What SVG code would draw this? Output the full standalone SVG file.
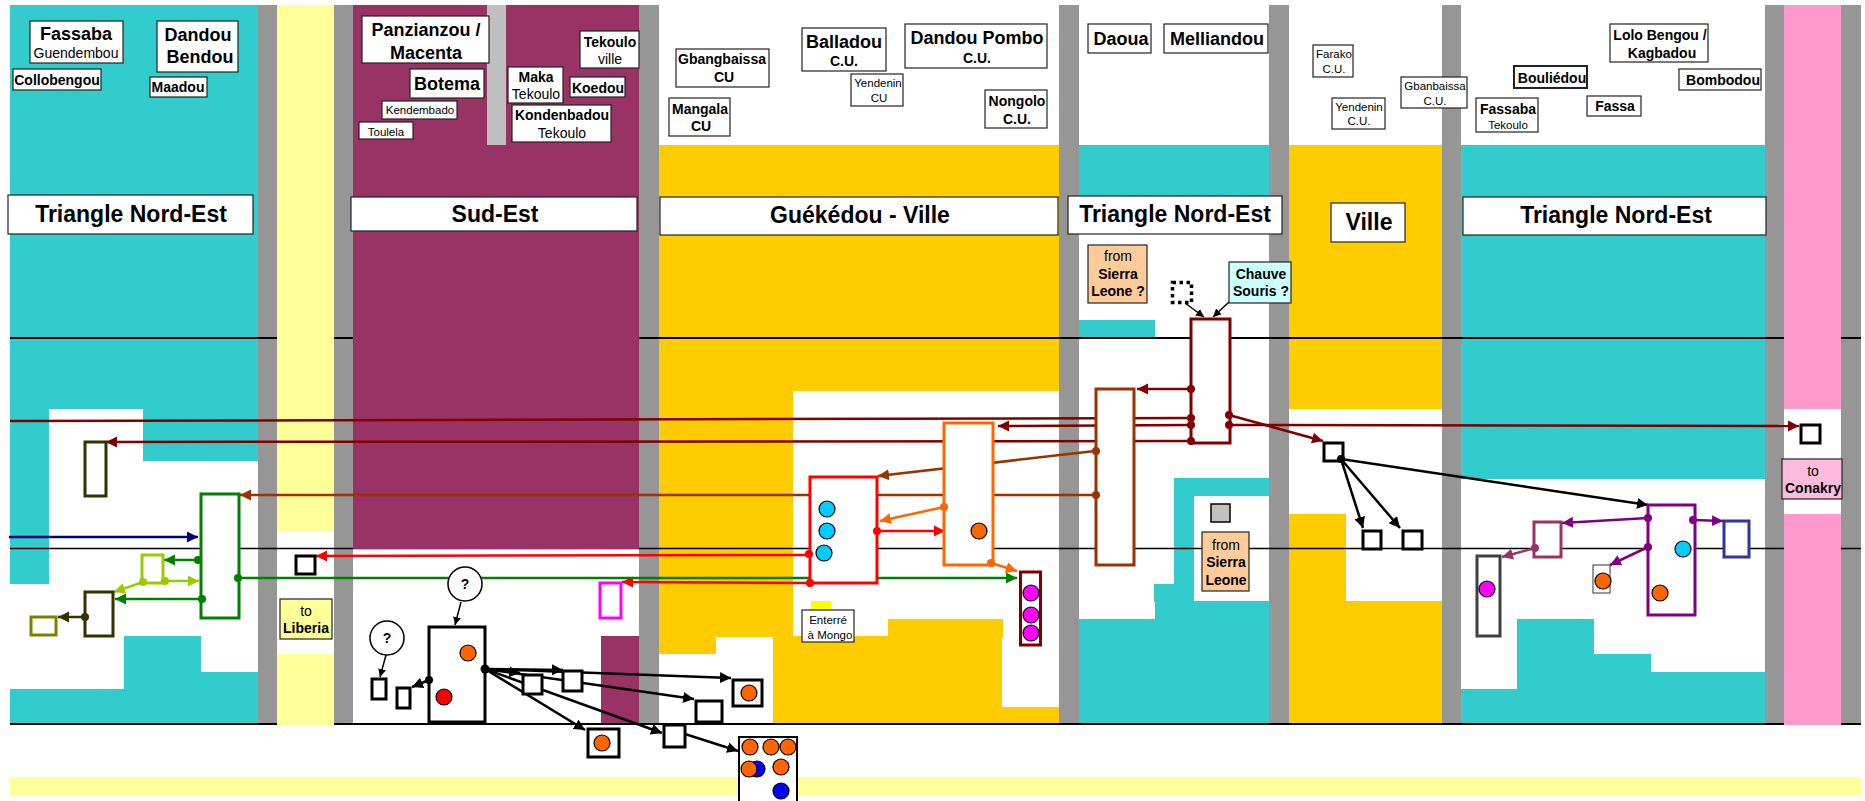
<svg xmlns="http://www.w3.org/2000/svg" width="1865" height="801" viewBox="0 0 1865 801">
<style>
text{font-family:"Liberation Sans",Arial,sans-serif;text-anchor:middle;fill:#000}
.b{font-weight:bold}.s11{font-size:11.5px}.s14{font-size:14px}.s18{font-size:18px}.s23{font-size:23px}
.teal{fill:#33CCCC}.gray{fill:#969696}.yel{fill:#FFFF99}.plum{fill:#993366}.gold{fill:#FFCC00}.pink{fill:#FF99CC}
.lab{fill:#fff;stroke:#222;stroke-width:1.2}
.box{fill:#fff;stroke-width:3}
.k{stroke:#000}
.c{stroke:#000;stroke-width:1.2}
.conn path,.conn line{fill:none;stroke-width:2.5}
.thin{stroke-width:1.5!important}
</style>
<defs>
<marker id="a-k" markerUnits="userSpaceOnUse" markerWidth="12" markerHeight="12" refX="11" refY="6" orient="auto"><path d="M0,0.5L11,6L0,11.5z" fill="#000"/></marker>
<marker id="a-t" markerUnits="userSpaceOnUse" markerWidth="9" markerHeight="9" refX="8" refY="4" orient="auto"><path d="M0,0L8,4L0,8z" fill="#000"/></marker>
<marker id="a-m" markerUnits="userSpaceOnUse" markerWidth="12" markerHeight="12" refX="11" refY="6" orient="auto"><path d="M0,0.5L11,6L0,11.5z" fill="#800000"/></marker>
<marker id="a-br" markerUnits="userSpaceOnUse" markerWidth="12" markerHeight="12" refX="11" refY="6" orient="auto"><path d="M0,0.5L11,6L0,11.5z" fill="#993300"/></marker>
<marker id="a-o" markerUnits="userSpaceOnUse" markerWidth="12" markerHeight="12" refX="11" refY="6" orient="auto"><path d="M0,0.5L11,6L0,11.5z" fill="#FF6600"/></marker>
<marker id="a-r" markerUnits="userSpaceOnUse" markerWidth="12" markerHeight="12" refX="11" refY="6" orient="auto"><path d="M0,0.5L11,6L0,11.5z" fill="#FF0000"/></marker>
<marker id="a-g" markerUnits="userSpaceOnUse" markerWidth="12" markerHeight="12" refX="11" refY="6" orient="auto"><path d="M0,0.5L11,6L0,11.5z" fill="#008000"/></marker>
<marker id="a-l" markerUnits="userSpaceOnUse" markerWidth="12" markerHeight="12" refX="11" refY="6" orient="auto"><path d="M0,0.5L11,6L0,11.5z" fill="#99CC00"/></marker>
<marker id="a-n" markerUnits="userSpaceOnUse" markerWidth="12" markerHeight="12" refX="11" refY="6" orient="auto"><path d="M0,0.5L11,6L0,11.5z" fill="#000080"/></marker>
<marker id="a-d" markerUnits="userSpaceOnUse" markerWidth="12" markerHeight="12" refX="11" refY="6" orient="auto"><path d="M0,0.5L11,6L0,11.5z" fill="#333300"/></marker>
<marker id="a-p" markerUnits="userSpaceOnUse" markerWidth="12" markerHeight="12" refX="11" refY="6" orient="auto"><path d="M0,0.5L11,6L0,11.5z" fill="#800080"/></marker>
<marker id="a-h" markerUnits="userSpaceOnUse" markerWidth="12" markerHeight="12" refX="11" refY="6" orient="auto"><path d="M0,0.5L11,6L0,11.5z" fill="#993366"/></marker>
</defs>
<g id="background">
<rect width="1865" height="801" fill="#fff"/>
<rect class="yel" x="10" y="777" width="1851" height="18"/>
<path class="teal" d="M10,5H258V461H143V409H49V584H10z"/>
<path class="teal" d="M10,723V689H124V636H201V672H258V723z"/>
<rect class="gray" x="258" y="5" width="19" height="718"/>
<rect class="gray" x="334" y="5" width="19" height="718"/>
<rect class="gold" x="659" y="145" width="400" height="246"/>
<path class="gold" d="M659,391H793V636H773V637H716V654H659z"/>
<path class="gold" d="M773,636H888V619H1003V637H1002V707H1059V723H773z"/>
<rect fill="#FFFF00" x="811" y="601" width="20" height="9"/>
<rect class="teal" x="1079" y="145" width="190" height="70"/>
<rect class="teal" x="1078" y="320" width="77" height="18"/>
<path class="teal" d="M1174,478H1269V496H1194V601H1269V723H1078V619H1155V602H1154V584H1174z"/>
<rect class="gold" x="1288" y="145" width="154" height="264"/>
<path class="gold" d="M1288,514H1346V601H1442V723H1288z"/>
<rect class="teal" x="1461" y="145" width="304" height="334"/>
<path class="teal" d="M1461,723V689H1517V619H1594V654H1651V672H1765V723z"/>
<g class="gray"><rect x="639" y="5" width="20" height="718"/><rect x="1059" y="5" width="20" height="718"/><rect x="1269" y="5" width="20" height="718"/><rect x="1442" y="5" width="19" height="718"/><rect x="1765" y="5" width="19" height="718"/><rect x="1841" y="5" width="20" height="718"/></g>
<line x1="10" y1="338" x2="1861" y2="338" stroke="#000" stroke-width="2"/>
<line x1="10" y1="548.500" x2="1861" y2="548.500" stroke="#000" stroke-width="1.5"/>
<line x1="10" y1="724" x2="1861" y2="724" stroke="#000" stroke-width="2"/>
<rect class="yel" x="277" y="5" width="57" height="526"/>
<rect class="yel" x="277" y="654" width="57" height="71"/>
<rect class="plum" x="353" y="5" width="286" height="544"/>
<rect fill="#BFBFBF" x="487" y="5" width="19" height="140"/>
<rect class="plum" x="601" y="636" width="38" height="87"/>
<path class="pink" d="M1784,5H1841V409H1784z"/>
<rect class="pink" x="1784" y="514" width="57" height="211"/>
</g>
<g class="conn">
<path d="M1191,418L10,421" stroke="#800000"/>
<path d="M1191,425L998,426" stroke="#800000" marker-end="url(#a-m)"/>
<path d="M1191,441L106,442" stroke="#800000" marker-end="url(#a-m)"/>
<path d="M1229,425L1799,426" stroke="#800000" marker-end="url(#a-m)"/>
<path d="M1229,415L1323,441" stroke="#800000" marker-end="url(#a-m)"/>
<path d="M1191,389L1137,389" stroke="#800000" marker-end="url(#a-m)"/>
<path d="M1095,451L878,476" stroke="#993300" marker-end="url(#a-br)"/>
<path d="M1095,495L240,495" stroke="#993300" marker-end="url(#a-br)"/>
<path d="M944,507L880,521" stroke="#FF6600" marker-end="url(#a-o)"/>
<path d="M991,563L1017,571" stroke="#FF6600" marker-end="url(#a-o)"/>
<path d="M877,531L945,531" stroke="#FF0000" marker-end="url(#a-r)"/>
<path d="M809,555L316,556" stroke="#FF0000" marker-end="url(#a-r)"/>
<path d="M810,583L622,582" stroke="#FF0000" marker-end="url(#a-r)"/>
<path d="M238,578L1017,578" stroke="#008000" marker-end="url(#a-g)"/>
<path d="M9,537L198,537" stroke="#000080" marker-end="url(#a-n)"/>
<path d="M198,560L164,560" stroke="#008000" marker-end="url(#a-g)"/>
<path d="M202,599L115,599" stroke="#008000" marker-end="url(#a-g)"/>
<path d="M165,581L199,581" stroke="#99CC00" marker-end="url(#a-l)"/>
<path d="M143,582L114,592" stroke="#99CC00" marker-end="url(#a-l)"/>
<path d="M85,617L58,617" stroke="#333300" marker-end="url(#a-d)"/>
<path d="M1648,518L1562,523" stroke="#800080" marker-end="url(#a-p)"/>
<path d="M1648,547L1610,565" stroke="#800080" marker-end="url(#a-p)"/>
<path d="M1693,520L1723,521" stroke="#800080" marker-end="url(#a-p)"/>
<path d="M1535,548L1502,557" stroke="#993366" marker-end="url(#a-h)"/>
<path d="M1341,459L1363,528" stroke="#000" marker-end="url(#a-k)"/>
<path d="M1341,459L1400,528" stroke="#000" marker-end="url(#a-k)"/>
<path d="M1341,459L1648,505" stroke="#000" marker-end="url(#a-k)"/>
<path d="M485,669L563,670" stroke="#000" marker-end="url(#a-k)"/>
<path d="M485,669L520,673" stroke="#000" marker-end="url(#a-k)"/>
<path d="M485,669L731,678" stroke="#000" marker-end="url(#a-k)"/>
<path d="M485,669L694,699" stroke="#000" marker-end="url(#a-k)"/>
<path d="M485,669L662,733" stroke="#000" marker-end="url(#a-k)"/>
<path d="M485,669L585,730" stroke="#000" marker-end="url(#a-k)"/>
<path d="M685,734L738,751" stroke="#000" marker-end="url(#a-k)"/>
<path d="M429,680L412,687" stroke="#000" marker-end="url(#a-k)"/>
<path class="thin" d="M1185,303L1204,317" stroke="#000" marker-end="url(#a-t)"/>
<path class="thin" d="M1229,302L1213,317" stroke="#000" marker-end="url(#a-t)"/>
<path class="thin" d="M386,655L380,677" stroke="#000" marker-end="url(#a-t)"/>
<path class="thin" d="M461,602L455,625" stroke="#000" marker-end="url(#a-t)"/>
</g>
<g id="zone-labels" class="b s23">
<g id="tne1"><rect class="lab" x="8" y="195" width="245" height="39"/><text x="131" y="222">Triangle Nord-Est</text></g>
<g id="sudest"><rect class="lab" x="351" y="197" width="286" height="34"/><text x="495" y="222">Sud-Est</text></g>
<g id="gueckedou"><rect class="lab" x="660" y="197" width="398" height="38"/><text x="860" y="223">Guékédou - Ville</text></g>
<g id="tne2"><rect class="lab" x="1068" y="196" width="214" height="38"/><text x="1175" y="222">Triangle Nord-Est</text></g>
<g id="ville"><rect class="lab" x="1331" y="203" width="74" height="39"/><text x="1369" y="230">Ville</text></g>
<g id="tne3"><rect class="lab" x="1463" y="197" width="303" height="38"/><text x="1616" y="223">Triangle Nord-Est</text></g>
</g>
<g id="places">
<g id="fassaba"><rect class="lab" x="30" y="21" width="93" height="42"/><text class="b s18" x="76" y="40">Fassaba</text><text class="s14" x="76" y="58">Guendembou</text></g>
<g id="dandou-bendou"><rect class="lab" x="157" y="21" width="81" height="51"/><text class="b s18" x="198" y="41">Dandou</text><text class="b s18" x="200" y="63">Bendou</text></g>
<g id="collobengou"><rect class="lab" x="13" y="69" width="88" height="21"/><text class="b s14" x="57" y="85">Collobengou</text></g>
<g id="maadou"><rect class="lab" x="150" y="77" width="57" height="20"/><text class="b s14" x="178" y="92">Maadou</text></g>
<g id="panzianzou"><rect class="lab" x="362" y="16" width="127" height="47"/><text class="b s18" x="426" y="36">Panzianzou /</text><text class="b s18" x="426" y="59">Macenta</text></g>
<g id="botema"><rect class="lab" x="410" y="69" width="74" height="29"/><text class="b s18" x="447" y="90">Botema</text></g>
<g id="kendembado"><rect class="lab" x="382" y="101" width="75" height="18"/><text class="s11" x="420" y="114">Kendembado</text></g>
<g id="toulela"><rect class="lab" x="359" y="122" width="54" height="17"/><text class="s11" x="386" y="136">Toulela</text></g>
<g id="maka"><rect class="lab" x="508" y="67" width="55" height="36"/><text class="b s14" x="536" y="82">Maka</text><text class="s14" x="536" y="99">Tekoulo</text></g>
<g id="koedou"><rect class="lab" x="570" y="77" width="55" height="20"/><text class="b s14" x="598" y="93">Koedou</text></g>
<g id="tekoulo"><rect class="lab" x="580" y="31" width="59" height="37"/><text class="b s14" x="610" y="47">Tekoulo</text><text class="s14" x="610" y="64">ville</text></g>
<g id="kondenbadou"><rect class="lab" x="512" y="105" width="99" height="37"/><text class="b s14" x="562" y="120">Kondenbadou</text><text class="s14" x="562" y="138">Tekoulo</text></g>
<g id="gbangbaissa"><rect class="lab" x="676" y="49" width="93" height="38"/><text class="b s14" x="722" y="64">Gbangbaissa</text><text class="b s14" x="724" y="82">CU</text></g>
<g id="balladou"><rect class="lab" x="802" y="28" width="84" height="43"/><text class="b s18" x="844" y="48">Balladou</text><text class="b s14" x="844" y="66">C.U.</text></g>
<g id="dandou-pombo"><rect class="lab" x="905" y="24" width="142" height="44"/><text class="b s18" x="977" y="44">Dandou Pombo</text><text class="b s14" x="977" y="63">C.U.</text></g>
<g id="yendenin1"><rect class="lab" x="851" y="74" width="52" height="32"/><text class="s11" x="878" y="87">Yendenin</text><text class="s11" x="879" y="102">CU</text></g>
<g id="mangala"><rect class="lab" x="669" y="98" width="61" height="38"/><text class="b s14" x="700" y="114">Mangala</text><text class="b s14" x="701" y="131">CU</text></g>
<g id="nongolo"><rect class="lab" x="985" y="90" width="62" height="38"/><text class="b s14" x="1017" y="106">Nongolo</text><text class="b s14" x="1017" y="124">C.U.</text></g>
<g id="daoua"><rect class="lab" x="1088" y="24" width="63" height="29"/><text class="b s18" x="1121" y="45">Daoua</text></g>
<g id="melliandou"><rect class="lab" x="1164" y="24" width="104" height="29"/><text class="b s18" x="1217" y="45">Melliandou</text></g>
<g id="farako"><rect class="lab" x="1313" y="45" width="40" height="32"/><text class="s11" x="1334" y="58">Farako</text><text class="s11" x="1334" y="73">C.U.</text></g>
<g id="yendenin2"><rect class="lab" x="1332" y="98" width="53" height="31"/><text class="s11" x="1359" y="111">Yendenin</text><text class="s11" x="1359" y="125">C.U.</text></g>
<g id="gbanbaissa"><rect class="lab" x="1401" y="77" width="66" height="31"/><text class="s11" x="1435" y="90">Gbanbaissa</text><text class="s11" x="1435" y="105">C.U.</text></g>
<g id="fassaba2"><rect class="lab" x="1476" y="98" width="62" height="34"/><text class="b s14" x="1508" y="114">Fassaba</text><text class="s11" x="1508" y="129">Tekoulo</text></g>
<g id="bouliedou"><rect class="lab" style="stroke-width:2" x="1514" y="66" width="73" height="22"/><text class="b s14" x="1552" y="83">Bouliédou</text></g>
<g id="fassa"><rect class="lab" x="1587" y="96" width="54" height="20"/><text class="b s14" x="1615" y="111">Fassa</text></g>
<g id="lolo"><rect class="lab" x="1610" y="24" width="98" height="38"/><text class="b s14" x="1660" y="40">Lolo Bengou /</text><text class="b s14" x="1662" y="58">Kagbadou</text></g>
<g id="bombodou"><rect class="lab" x="1679" y="69" width="82" height="21"/><text class="b s14" x="1723" y="85">Bombodou</text></g>
<g id="from-sl1"><rect class="lab" style="fill:#FFCC99" x="1088" y="245" width="59" height="58"/><text class="s14" x="1118" y="261">from</text><text class="b s14" x="1118" y="279">Sierra</text><text class="b s14" x="1118" y="296">Leone ?</text></g>
<g id="chauve"><rect class="lab" style="fill:#CCFFFF" x="1229" y="262" width="62" height="41"/><text class="b s14" x="1261" y="279">Chauve</text><text class="b s14" x="1261" y="296">Souris ?</text></g>
<g id="from-sl2"><rect class="lab" style="fill:#FFCC99" x="1202" y="532" width="47" height="59"/><text class="s14" x="1226" y="550">from</text><text class="b s14" x="1226" y="567">Sierra</text><text class="b s14" x="1226" y="585">Leone</text></g>
<g id="to-conakry"><rect class="lab" style="fill:#FFBBDD" x="1782" y="459" width="60" height="40"/><text class="s14" x="1813" y="476">to</text><text class="b s14" x="1813" y="493">Conakry</text></g>
<g id="to-liberia"><rect class="lab" style="fill:#FFFF99" x="280" y="599" width="52" height="40"/><text class="s14" x="306" y="616">to</text><text class="b s14" x="306" y="633">Liberia</text></g>
<g id="mongo"><rect class="lab" x="802" y="610" width="52" height="32"/><text class="s11" x="828" y="624">Enterré</text><text class="s11" x="830" y="639">à Mongo</text></g>
</g>
<g id="nodes">
<g id="n-dotted"><rect x="1172.500" y="282.500" width="19" height="20" fill="#fff" stroke="#000" stroke-width="3.500" stroke-dasharray="3.500 3.500"/></g>
<g id="n-darkred"><rect class="box" stroke="#800000" x="1191" y="319" width="39" height="124"/><circle cx="1191" cy="389" r="4" fill="#800000"/><circle cx="1191" cy="418" r="4" fill="#800000"/><circle cx="1191" cy="425" r="4" fill="#800000"/><circle cx="1191" cy="441" r="4" fill="#800000"/><circle cx="1229" cy="415" r="4" fill="#800000"/><circle cx="1229" cy="425" r="4" fill="#800000"/></g>
<g id="n-brown"><rect class="box" stroke="#993300" x="1096" y="389" width="38" height="176"/><circle cx="1096" cy="451" r="4" fill="#993300"/><circle cx="1096" cy="495" r="4" fill="#993300"/></g>
<g id="n-orange"><rect class="box" stroke="#FF6600" x="944" y="423" width="49" height="142"/><circle class="c" cx="979" cy="531" r="8" fill="#FF6600"/><circle cx="944" cy="507" r="4" fill="#FF6600"/><circle cx="991" cy="563" r="4" fill="#FF6600"/></g>
<g id="n-red"><rect class="box" stroke="#FF0000" x="810" y="477" width="67" height="106"/><circle class="c" cx="827" cy="509" r="8" fill="#00CCFF"/><circle class="c" cx="827" cy="531" r="8" fill="#00CCFF"/><circle class="c" cx="824" cy="553" r="8" fill="#00CCFF"/><circle cx="877" cy="531" r="4" fill="#FF0000"/><circle cx="809" cy="554" r="4" fill="#FF0000"/><circle cx="810" cy="583" r="4" fill="#FF0000"/></g>
<g id="n-mag3"><rect class="box" stroke="#800000" x="1020.500" y="572" width="20" height="73"/><circle class="c" cx="1031" cy="593" r="8" fill="#FF00FF"/><circle class="c" cx="1031" cy="615" r="8" fill="#FF00FF"/><circle class="c" cx="1031" cy="633" r="8" fill="#FF00FF"/></g>
<g id="n-green"><rect class="box" stroke="#008000" x="201" y="494" width="38" height="124"/><circle cx="198" cy="560" r="4" fill="#008000"/><circle cx="202" cy="599" r="4" fill="#008000"/><circle cx="238" cy="578" r="4" fill="#008000"/></g>
<g id="n-olive1"><rect class="box" stroke="#333300" x="85" y="442" width="21" height="54"/></g>
<g id="n-lime"><rect class="box" stroke="#99CC00" x="142" y="555" width="21" height="28"/><circle cx="165" cy="581" r="4" fill="#99CC00"/><circle cx="143" cy="582" r="4" fill="#99CC00"/></g>
<g id="n-olive2"><rect class="box" stroke="#333300" x="85" y="592" width="28" height="44"/><circle cx="85" cy="617" r="4" fill="#333300"/></g>
<g id="n-olive3"><rect class="box" stroke="#808000" x="31" y="617" width="25" height="18"/></g>
<g id="n-magenta"><rect class="box" stroke="#FF00FF" x="600" y="583" width="21" height="35"/></g>
<g id="n-liberia"><rect class="box k" x="296" y="556" width="19" height="18"/></g>
<g id="n-big"><rect class="box k" x="429" y="627" width="56" height="95"/><circle class="c" cx="468" cy="653" r="8" fill="#FF6600"/><circle class="c" cx="444" cy="697" r="8" fill="#FF0000"/><circle cx="429" cy="680" r="4"/><circle cx="485" cy="669" r="4.500"/></g>
<g id="n-s1"><rect class="box k" x="372" y="679" width="14" height="20"/></g>
<g id="n-s2"><rect class="box k" x="397" y="688" width="13" height="20"/></g>
<g id="n-s3"><rect class="box k" x="523" y="675" width="19" height="19"/></g>
<g id="n-s4"><rect class="box k" x="563" y="671" width="19" height="20"/></g>
<g id="n-s5"><rect class="box k" x="733" y="680" width="29" height="26"/><circle class="c" cx="749" cy="693" r="8" fill="#FF6600"/></g>
<g id="n-s6"><rect class="box k" x="696" y="701" width="26" height="21"/></g>
<g id="n-s7"><rect class="box k" x="664" y="725" width="21" height="22"/></g>
<g id="n-s8"><rect class="box k" x="588" y="729" width="31" height="28"/><circle class="c" cx="602" cy="743" r="8" fill="#FF6600"/></g>
<g id="n-s9"><rect class="box k" style="stroke-width:2" x="739" y="737" width="58" height="70"/><circle class="c" cx="750" cy="747" r="8" fill="#FF6600"/><circle class="c" cx="771" cy="747" r="8" fill="#FF6600"/><circle class="c" cx="788" cy="747" r="8" fill="#FF6600"/><circle class="c" cx="757" cy="769" r="8" fill="#0000FF"/><circle class="c" cx="749" cy="769" r="8" fill="#FF6600"/><circle class="c" cx="781" cy="767" r="8" fill="#FF6600"/><circle class="c" cx="781" cy="791" r="8" fill="#0000FF"/></g>
<g id="n-q1"><circle cx="387" cy="638" r="17" fill="#fff" stroke="#000" stroke-width="1.5"/><text class="b s14" x="387" y="643">?</text></g>
<g id="n-q2"><circle cx="465" cy="584" r="17" fill="#fff" stroke="#000" stroke-width="1.5"/><text class="b s14" x="465" y="589">?</text></g>
<g id="n-gray"><rect x="1211" y="504" width="19" height="18" fill="#C0C0C0" stroke="#000" stroke-width="1.5"/></g>
<g id="n-v1"><rect class="box k" x="1324" y="443" width="19" height="18"/><circle cx="1341" cy="459" r="4"/></g>
<g id="n-v2"><rect class="box k" x="1363" y="531" width="18" height="18"/></g>
<g id="n-v3"><rect class="box k" x="1403" y="531" width="19" height="18"/></g>
<g id="n-conakry"><rect class="box k" x="1801" y="425" width="19" height="18"/></g>
<g id="n-purple"><rect class="box" stroke="#800080" x="1648" y="505" width="47" height="110"/><circle class="c" cx="1683" cy="549" r="8" fill="#00CCFF"/><circle class="c" cx="1660" cy="593" r="8" fill="#FF6600"/><circle cx="1648" cy="518" r="4" fill="#800080"/><circle cx="1648" cy="547" r="4" fill="#800080"/><circle cx="1693" cy="520" r="4" fill="#800080"/></g>
<g id="n-blue"><rect class="box" stroke="#333399" x="1724" y="521" width="25" height="36"/></g>
<g id="n-plum"><rect class="box" stroke="#993366" x="1534" y="522" width="27" height="35"/><circle cx="1535" cy="548" r="4" fill="#993366"/></g>
<g id="n-grey"><rect class="box" stroke="#404040" x="1477" y="556" width="23" height="80"/><circle class="c" cx="1487" cy="589" r="8" fill="#FF00FF"/></g>
<g id="n-thin"><rect x="1593" y="565" width="17" height="28" fill="#fff" stroke="#333" stroke-width="1"/><circle class="c" cx="1603" cy="581" r="8" fill="#FF6600"/></g>
</g>
</svg>
